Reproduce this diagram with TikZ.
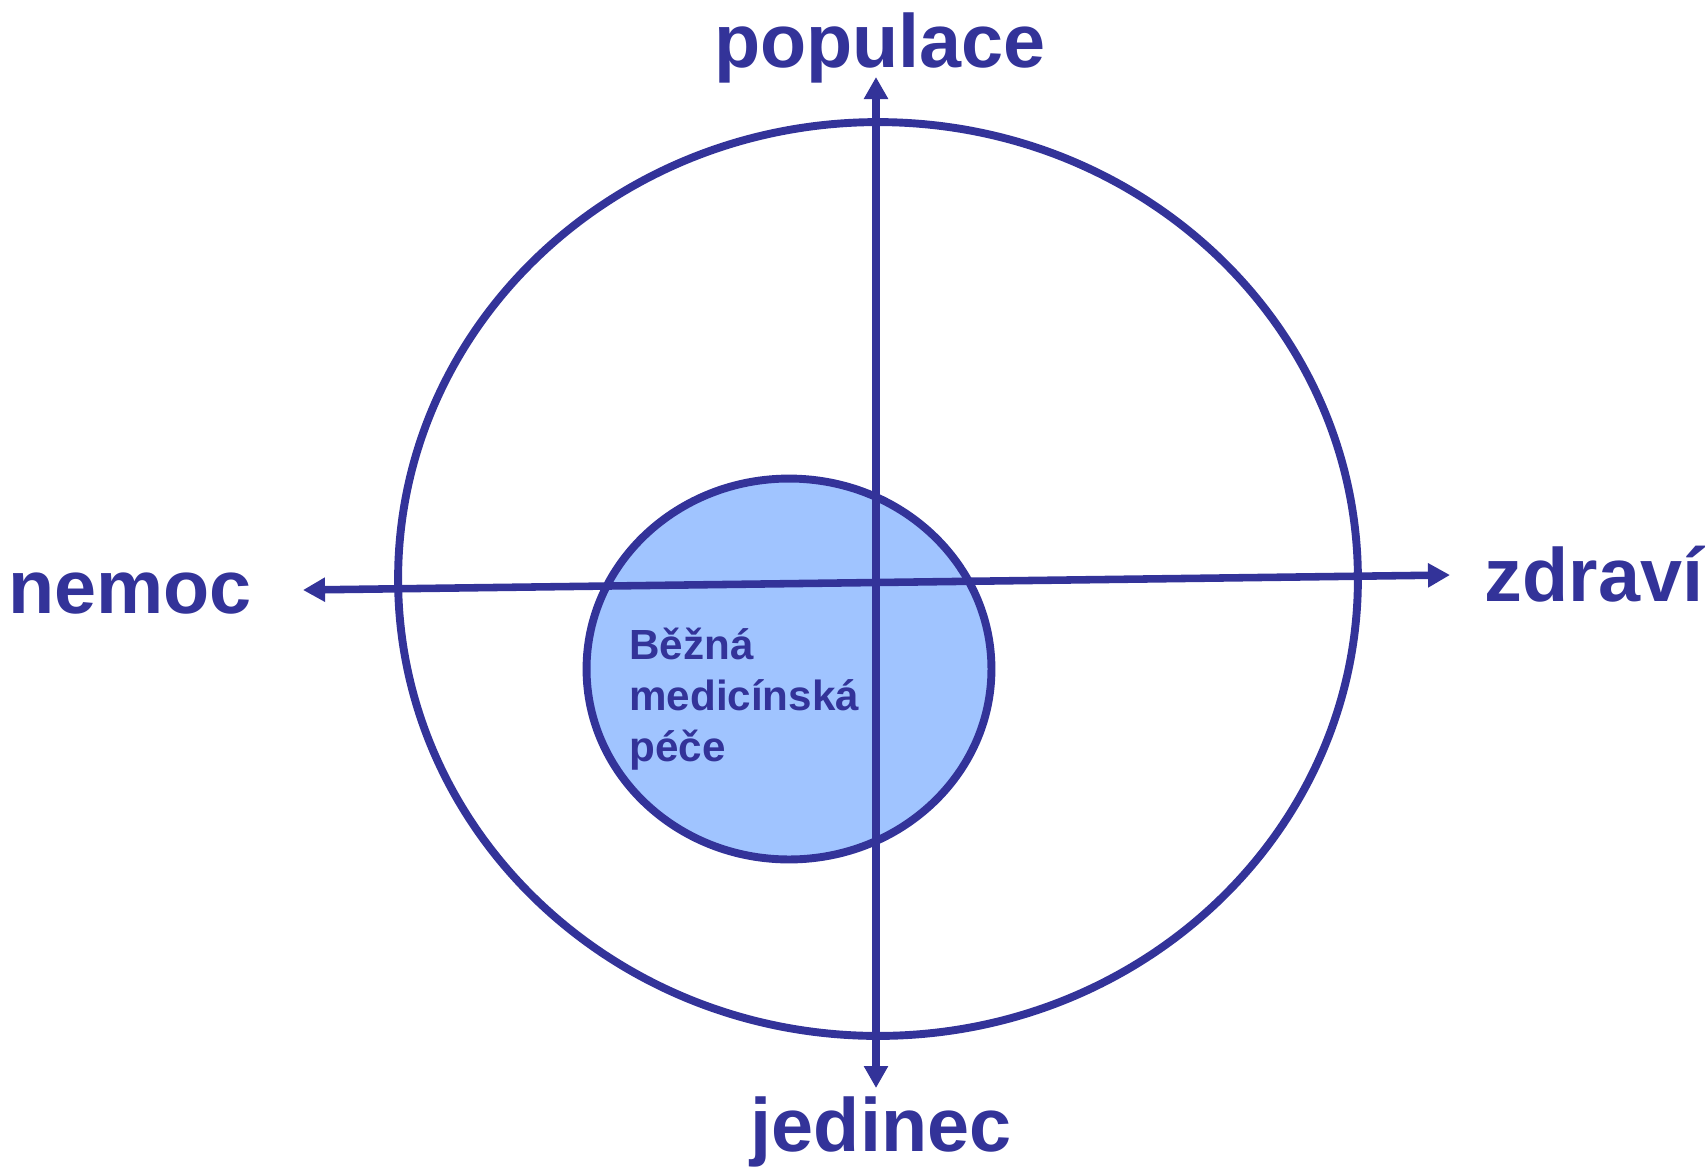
\documentclass[tikz,border=0pt]{standalone}
\usepackage{xcolor}
\usepackage{fontspec}
\setmainfont{Liberation Sans}
\usepackage{tikz}
\usetikzlibrary{shapes.geometric, arrows.meta, positioning}

\definecolor{axisblue}{RGB}{51,51,153}
\definecolor{careblue}{RGB}{160,196,255}

\begin{document}
\begin{tikzpicture}[
    x=0.02cm, y=-0.02cm,
    zone ellipse/.style = {
        ellipse,
        draw=axisblue,
        line width=4.5pt,
        inner sep=0pt
    },
    axis label/.style = {
        anchor=base,
        inner sep=0pt,
        font=\fontsize{43}{50}\selectfont\bfseries,
        text=axisblue
    },
    axis arrow/.style = {
        {Triangle[length=0.44cm, width=0.46cm]}-{Triangle[length=0.44cm, width=0.46cm]},
        line width=4.3pt,
        axisblue
    }
]
\useasboundingbox (0,0) rectangle (1708,1171);

\node [zone ellipse, minimum width=19.2cm, minimum height=18.28cm] (outer) at (878,579) {};
\node [zone ellipse, fill=careblue, minimum width=8.1cm, minimum height=7.62cm] (care) at (789,669) {};

\node [axis label] (populace) at (880,67) {populace};
\node [axis label] (jedinec) at (881,1151) {jedinec};
\node [axis label] (nemoc) at (130,613) {nemoc};
\node [axis label] (zdravi) at (1594,601) {zdraví};

\coordinate (top tip) at (876,77);
\coordinate (bottom tip) at (876,1088);
\coordinate (left tip) at (303,590);
\coordinate (right tip) at (1450,575);

\draw [axis arrow] (bottom tip) -- (top tip);
\draw [axis arrow] (left tip) -- (right tip);

\node [anchor=west, inner sep=0pt, align=left, text=axisblue,
    font=\fontsize{24}{29}\selectfont\bfseries] (care text) at (629,699)
    {Běžná\\medicínská\\péče};

\end{tikzpicture}
\end{document}
